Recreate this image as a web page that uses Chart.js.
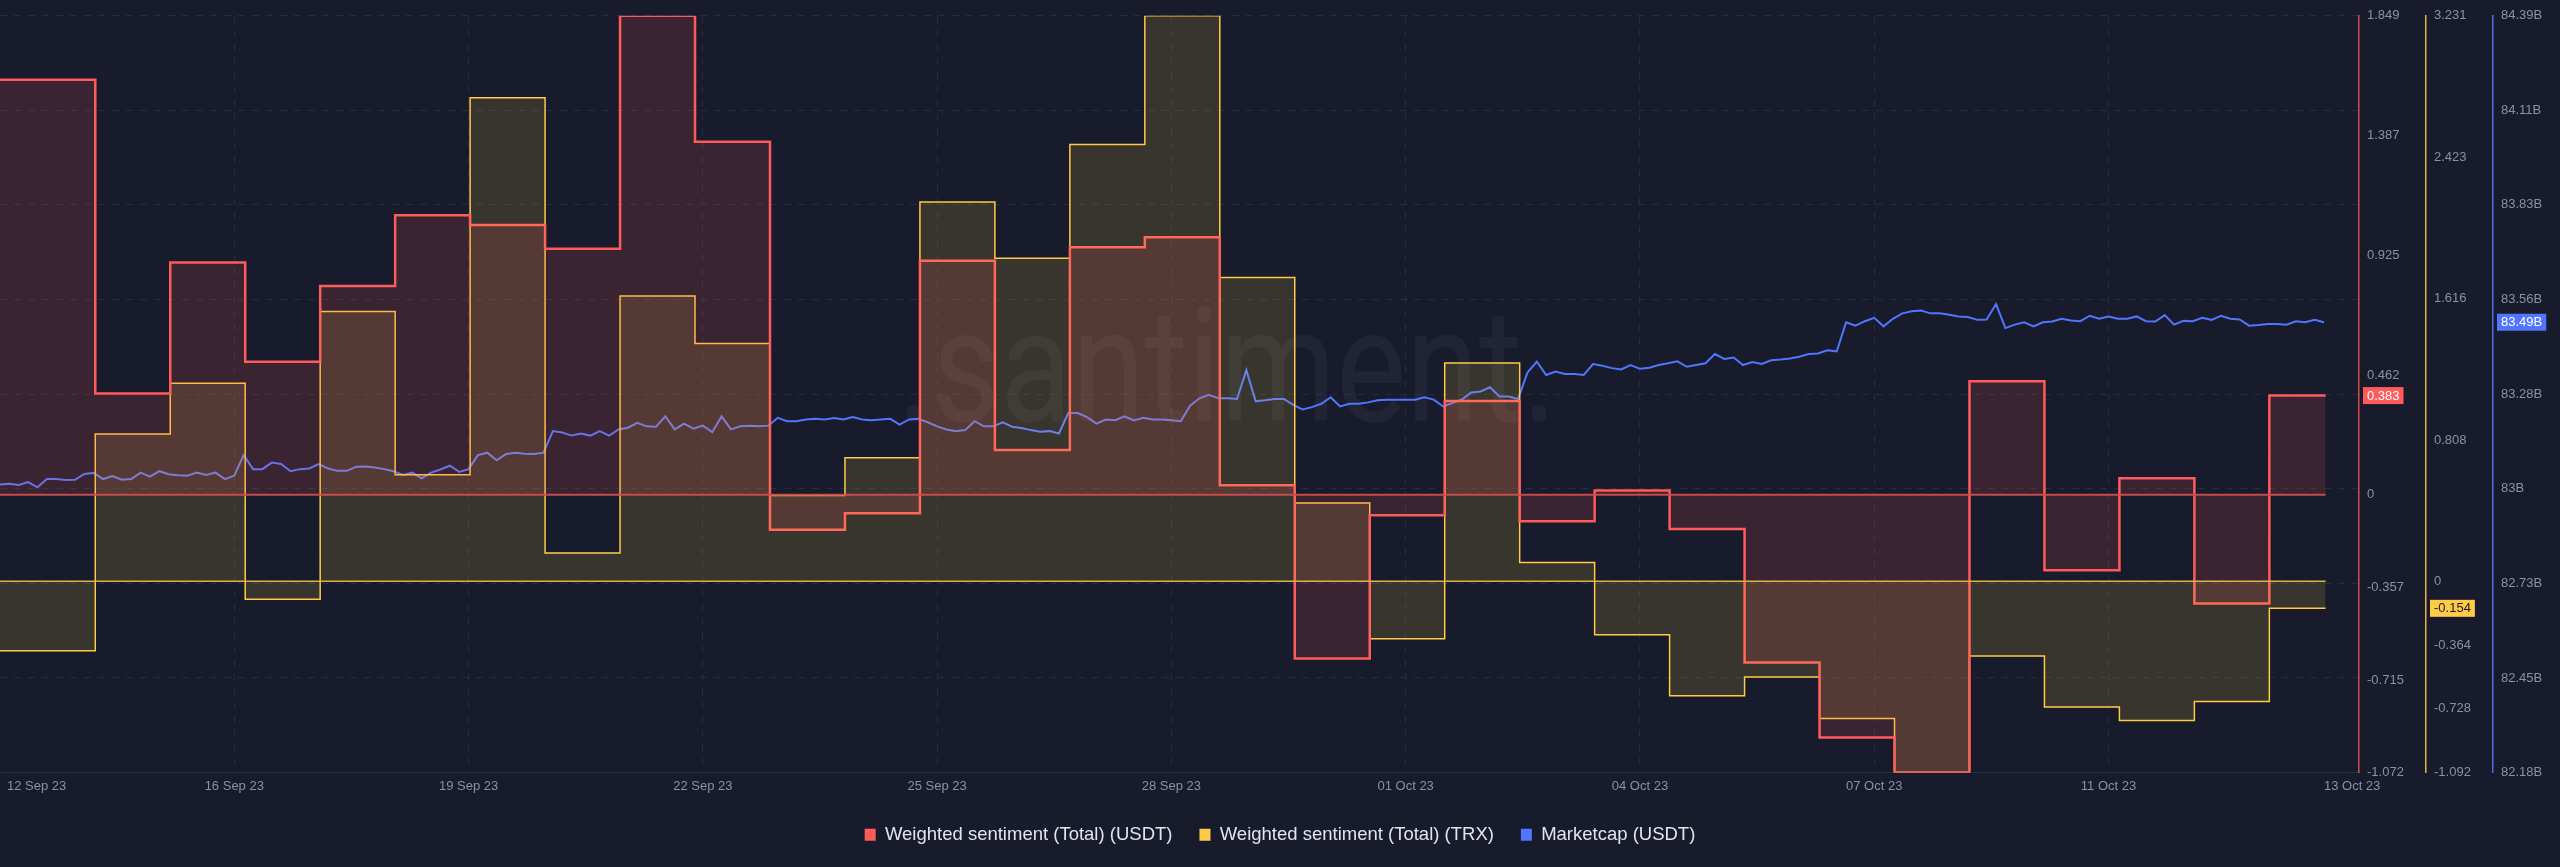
<!DOCTYPE html>
<html>
<head>
<meta charset="utf-8">
<script src="https://cdn.jsdelivr.net/npm/chart.js@4.4.0/dist/chart.umd.min.js"></script>
<style>
  html, body { margin: 0; padding: 0; background: #181b2b; }
  #wrap { width: 2560px; height: 867px; position: relative; }
</style>
</head>
<body>
<div id="wrap"><canvas id="chart"></canvas></div>
<script>
"use strict";

// time axis is in hours since the first sample
const dayStarts = [0, 30.5, 54.5, 78.5, 102.5, 126.5, 150.5, 174.5, 198.5, 222.5,
  246.5, 270.5, 294.5, 318.5, 342.5, 366.5, 390.5, 414.5, 438.5, 462.5,
  486.5, 510.5, 534.5, 558.5, 582.5, 606.5, 630.5, 654.5, 678.5, 702.5, 726.5];
const lastHour = 744.5;

const sentimentUsdt = [1.602, 0.391, 0.897, 0.514, 0.806, 1.079, 1.041, 0.950, 1.849, 1.363,
  -0.135, -0.071, 0.903, 0.173, 0.956, 0.994, 0.037, -0.632, -0.079, 0.362,
  -0.102, 0.017, -0.132, -0.647, -0.937, -1.072, 0.438, -0.291, 0.064, -0.420, 0.383];

const sentimentTrx = [-0.396, 0.842, 1.132, -0.102, 1.542, 0.609, 2.763, 0.162, 1.630, 1.359,
  0.490, 0.706, 2.167, 1.846, 2.496, 3.231, 1.736, 0.447, -0.328, 1.248,
  0.108, -0.305, -0.654, -0.546, -0.784, -1.092, -0.426, -0.718, -0.795, -0.686, -0.154];

// marketcap in billions, one reading every 3 hours
const mcapStep = 3;
const marketcapUsdt = [
  83.021, 83.023, 83.020, 83.028, 83.013, 83.037, 83.037, 83.034, 83.035, 83.052,
  83.055, 83.037, 83.046, 83.035, 83.037, 83.056, 83.044, 83.060, 83.051, 83.048,
  83.047, 83.056, 83.049, 83.056, 83.037, 83.047, 83.107, 83.066, 83.066, 83.085,
  83.081, 83.060, 83.066, 83.068, 83.081, 83.068, 83.061, 83.061, 83.073, 83.074,
  83.071, 83.066, 83.060, 83.049, 83.056, 83.039, 83.056, 83.065, 83.076, 83.058,
  83.066, 83.107, 83.114, 83.092, 83.110, 83.114, 83.111, 83.110, 83.114, 83.177,
  83.173, 83.164, 83.170, 83.164,
  83.177, 83.164, 83.182, 83.187, 83.201, 83.191, 83.190, 83.220, 83.182, 83.199,
  83.184, 83.193, 83.174, 83.220, 83.182, 83.191, 83.193, 83.191, 83.193, 83.216,
  83.206, 83.206, 83.211, 83.213, 83.211, 83.215, 83.211, 83.218, 83.211, 83.209,
  83.211, 83.213, 83.196, 83.211, 83.213, 83.203, 83.191, 83.182, 83.177, 83.180,
  83.206, 83.191, 83.191, 83.203, 83.190, 83.186, 83.180, 83.175, 83.177, 83.170,
  83.230, 83.230, 83.218, 83.199, 83.211, 83.209, 83.220, 83.208, 83.216, 83.211,
  83.211, 83.209, 83.206, 83.251,
  83.273, 83.283, 83.273, 83.273, 83.271, 83.355, 83.264, 83.267, 83.271, 83.271,
  83.254, 83.240, 83.247, 83.257, 83.276, 83.249, 83.257, 83.257, 83.261, 83.267,
  83.269, 83.269, 83.269, 83.269, 83.276, 83.269, 83.249, 83.259, 83.269, 83.290,
  83.293, 83.305, 83.278, 83.278, 83.271, 83.348, 83.380, 83.341, 83.351, 83.344,
  83.344, 83.341, 83.373, 83.368, 83.361, 83.357, 83.370, 83.359, 83.362, 83.370,
  83.375, 83.381, 83.365, 83.370, 83.375, 83.402, 83.388, 83.392, 83.370, 83.379,
  83.373, 83.384, 83.386, 83.389,
  83.394, 83.402, 83.404, 83.413, 83.410, 83.495, 83.485, 83.498, 83.508, 83.483,
  83.505, 83.521, 83.527, 83.529, 83.521, 83.521, 83.517, 83.512, 83.510, 83.502,
  83.503, 83.548, 83.478, 83.488, 83.495, 83.483, 83.495, 83.497, 83.505, 83.500,
  83.498, 83.514, 83.505, 83.512, 83.505, 83.505, 83.512, 83.498, 83.497, 83.516,
  83.488, 83.499, 83.498, 83.508, 83.502, 83.514, 83.505, 83.503, 83.485, 83.487,
  83.490, 83.490, 83.488, 83.498, 83.495, 83.502, 83.495];

const xTickHours = [11.7, 75, 150, 225, 300, 375, 450, 525, 600, 675, 753];
const xTickLabels = ["12 Sep 23", "16 Sep 23", "19 Sep 23", "22 Sep 23", "25 Sep 23", "28 Sep 23",
  "01 Oct 23", "04 Oct 23", "07 Oct 23", "11 Oct 23", "13 Oct 23"];

const usdtTicks = [1.849, 1.387, 0.925, 0.462, 0, -0.357, -0.715, -1.072];
const trxTicks = [3.231, 2.423, 1.616, 0.808, 0, -0.364, -0.728, -1.092];
const mcapTicks = [82.18, 82.456, 82.733, 83.009, 83.285, 83.561, 83.838, 84.114, 84.39];
const mcapTickLabels = ["82.18B", "82.45B", "82.73B", "83B", "83.28B", "83.56B", "83.83B", "84.11B", "84.39B"];

const seriesNames = ["Weighted sentiment (Total) (USDT)", "Weighted sentiment (Total) (TRX)", "Marketcap (USDT)"];
const RED = "#ff5b5b";
const YELLOW = "#ffcb47";
const BLUE = "#5275ff";
const TICK_COLOR = "#8b90a4";
const GRID_COLOR = "#262b3d";
const LEGEND_TEXT = "#e2e4ec";

Chart.defaults.font.family = '"Liberation Sans", Arial, sans-serif';

function stepPoints(values) {
  const pts = values.map((v, i) => ({ x: dayStarts[i], y: v }));
  pts.push({ x: lastHour, y: values[values.length - 1] });
  return pts;
}

const usdtPoints = stepPoints(sentimentUsdt);
const trxPoints = stepPoints(sentimentTrx);
const mcapPoints = marketcapUsdt.map((v, i) => ({ x: i * mcapStep, y: v }));

// faint logo behind the series
const watermark = {
  id: "watermark",
  beforeDatasetsDraw(chart) {
    const ctx = chart.ctx;
    ctx.save();
    ctx.font = '400 160px Roboto, "Open Sans", sans-serif';
    const w = ctx.measureText(".santiment.").width;
    ctx.translate(897, 421);
    ctx.scale(660 / w, 1);
    ctx.fillStyle = "rgba(255,255,255,0.045)";
    ctx.textBaseline = "alphabetic";
    ctx.fillText(".santiment.", 0, 0);
    ctx.restore();
  }
};

// zero reference lines for both sentiment axes
const zeroLines = {
  id: "zeroLines",
  afterDatasetsDraw(chart) {
    const { ctx, scales } = chart;
    const x0 = scales.x.getPixelForValue(0);
    const x1 = scales.x.getPixelForValue(lastHour);
    [["yUsdt", "rgba(205,78,78,0.95)", 2], ["yTrx", "rgba(230,185,70,0.95)", 1.5]].forEach(([id, color, w]) => {
      const y = scales[id].getPixelForValue(0);
      ctx.save();
      ctx.strokeStyle = color;
      ctx.lineWidth = w;
      ctx.beginPath();
      ctx.moveTo(x0, y);
      ctx.lineTo(x1, y);
      ctx.stroke();
      ctx.restore();
    });
  }
};

// last-value badges on the axes
const badges = {
  id: "badges",
  afterDraw(chart) {
    const { ctx, scales } = chart;
    const lastUsdt = sentimentUsdt[sentimentUsdt.length - 1];
    const lastTrx = sentimentTrx[sentimentTrx.length - 1];
    const lastMcap = marketcapUsdt[marketcapUsdt.length - 1];
    const items = [
      ["yUsdt", lastUsdt, lastUsdt.toFixed(3), RED, "#ffffff"],
      ["yTrx", lastTrx, lastTrx.toFixed(3), YELLOW, "#181b2b"],
      ["yMcap", lastMcap, (Math.floor(lastMcap * 100) / 100).toFixed(2) + "B", BLUE, "#ffffff"]
    ];
    ctx.save();
    ctx.font = '13px "Liberation Sans", Arial, sans-serif';
    ctx.textBaseline = "middle";
    items.forEach(([id, value, text, bg, fg]) => {
      const s = scales[id];
      const y = s.getPixelForValue(value);
      const w = ctx.measureText(text).width;
      ctx.fillStyle = bg;
      ctx.fillRect(s.left + 4, y - 8.5, w + 8, 17);
      ctx.fillStyle = fg;
      ctx.fillText(text, s.left + 8, y + 0.5);
    });
    ctx.restore();
  }
};

function rightAxis(ticks, min, max, color, labelFn, showGrid) {
  return {
    type: "linear",
    position: "right",
    min: min,
    max: max,
    afterBuildTicks: s => { s.ticks = ticks.map(v => ({ value: v })); },
    afterFit: s => { s.width = 67; },
    ticks: {
      autoSkip: false,
      color: TICK_COLOR,
      font: { size: 13 },
      padding: 8,
      callback: labelFn
    },
    grid: { display: showGrid, color: GRID_COLOR, drawTicks: false, lineWidth: 1 },
    border: { display: true, color: color, width: 1.5, dash: [7, 7] }
  };
}

new Chart(document.getElementById("chart"), {
  type: "line",
  data: {
    datasets: [
      { label: seriesNames[0], data: usdtPoints, yAxisID: "yUsdt", stepped: true, fill: "origin",
        backgroundColor: "rgba(255,91,91,0.15)", borderColor: "transparent", borderWidth: 1, pointRadius: 0, order: 0 },
      { label: seriesNames[1], data: trxPoints, yAxisID: "yTrx", stepped: true, fill: "origin",
        backgroundColor: "rgba(255,203,71,0.14)", borderColor: "transparent", borderWidth: 1, pointRadius: 0, order: 0 },
      { label: seriesNames[0], data: usdtPoints, yAxisID: "yUsdt", stepped: true, fill: false,
        borderColor: RED, borderWidth: 2.5, pointRadius: 0, order: 1 },
      { label: seriesNames[1], data: trxPoints, yAxisID: "yTrx", stepped: true, fill: false,
        borderColor: YELLOW, borderWidth: 1.5, pointRadius: 0, order: 1 },
      { label: seriesNames[2], data: mcapPoints, yAxisID: "yMcap", fill: false,
        borderColor: BLUE, borderWidth: 2, pointRadius: 0, tension: 0, order: 2 }
    ]
  },
  options: {
    responsive: true,
    maintainAspectRatio: false,
    animation: false,
    events: [],
    layout: { padding: { top: 9, bottom: 13, left: 0, right: 0 } },
    plugins: {
      tooltip: { enabled: false },
      legend: {
        position: "bottom",
        labels: {
          color: LEGEND_TEXT,
          font: { size: 18.5 },
          boxWidth: 11,
          boxHeight: 12,
          padding: 27,
          generateLabels: () => seriesNames.map((name, i) => ({
            text: name,
            fillStyle: [RED, YELLOW, BLUE][i],
            strokeStyle: [RED, YELLOW, BLUE][i],
            fontColor: LEGEND_TEXT,
            lineWidth: 0,
            hidden: false,
            datasetIndex: i
          }))
        }
      }
    },
    scales: {
      x: {
        type: "linear",
        min: 0,
        max: 755.2,
        afterBuildTicks: s => { s.ticks = xTickHours.map(v => ({ value: v })); },
        afterFit: s => { s.height = 26; },
        ticks: {
          autoSkip: false,
          maxRotation: 0,
          color: TICK_COLOR,
          font: { size: 13 },
          padding: 6,
          callback: (v, i) => xTickLabels[i]
        },
        grid: {
          drawTicks: false,
          color: c => (c.index === 0 || c.index === xTickHours.length - 1) ? "transparent" : GRID_COLOR
        },
        border: { display: true, color: "#2b3043", width: 1, dash: [7, 7] }
      },
      yUsdt: rightAxis(usdtTicks, -1.072, 1.849, "#d14a4a", v => v === 0 ? "0" : v.toFixed(3), false),
      yTrx: rightAxis(trxTicks, -1.092, 3.231, "#e3b23a", v => v === 0 ? "0" : v.toFixed(3), false),
      yMcap: rightAxis(mcapTicks, 82.18, 84.39, "#4d6be6", (v, i) => mcapTickLabels[i], true)
    }
  },
  plugins: [watermark, zeroLines, badges]
});
</script>
</body>
</html>
